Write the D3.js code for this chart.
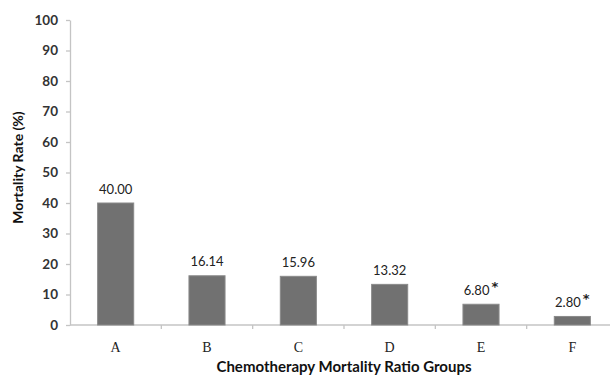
<!DOCTYPE html>
<html><head><meta charset="utf-8">
<script src="https://cdn.jsdelivr.net/npm/d3@7"></script>
<style>
html,body{margin:0;padding:0;background:#fff;}
svg{display:block;}
</style></head>
<body>
<svg id="chart" width="610" height="381"></svg>
<script>
const categories = ["A", "B", "C", "D", "E", "F"];
const values = [40.00, 16.14, 15.96, 13.32, 6.80, 2.80];
const valueLabels = ["40.00", "16.14", "15.96", "13.32", "6.80", "2.80"];
const significant = [false, false, false, false, true, true];
const yTicks = [0, 10, 20, 30, 40, 50, 60, 70, 80, 90, 100];

(function () {
const svg = d3.select("#chart");
const mLeft = 70, mRight = 618, mTop = 20, mBottom = 325;

const x = d3.scaleBand().domain(categories).range([mLeft, mRight]).padding(0);
const y = d3.scaleLinear().domain([0, 100]).range([mBottom, mTop]);
const axisColor = "#c4c4c4";
const barW = x.bandwidth() * 0.395;

// y axis
const yAxis = svg.append("g").attr("transform", `translate(${mLeft},0)`)
  .call(d3.axisLeft(y).tickValues(yTicks).tickSize(4).tickPadding(8).tickSizeOuter(0));
yAxis.select(".domain").attr("stroke", axisColor).attr("stroke-width", 1.3);
yAxis.selectAll(".tick line").attr("stroke", axisColor).attr("stroke-width", 1.3);
yAxis.selectAll(".tick text").attr("fill", "#333").style("font-family", "Lato, 'Open Sans', sans-serif")
  .style("font-size", "13.5px").style("font-weight", "700");

// x axis with ticks at band boundaries
const xg = svg.append("g").attr("transform", `translate(0,${mBottom})`);
xg.append("line").attr("x1", mLeft).attr("x2", 610).attr("y1", 0).attr("y2", 0)
  .attr("stroke", axisColor).attr("stroke-width", 1.3);
xg.selectAll("line.bt").data(categories.slice(1)).enter().append("line").attr("class", "bt")
  .attr("x1", d => x(d)).attr("x2", d => x(d)).attr("y1", 0).attr("y2", 4)
  .attr("stroke", axisColor).attr("stroke-width", 1.3);
xg.selectAll("text").data(categories).enter().append("text")
  .attr("x", d => x(d) + x.bandwidth() / 2).attr("y", 27)
  .attr("text-anchor", "middle").attr("fill", "#222")
  .style("font-family", "'Liberation Serif', 'DejaVu Serif', serif").style("font-size", "14px")
  .text(d => d);

// bars
svg.selectAll("rect.bar").data(categories).enter().append("rect").attr("class", "bar")
  .attr("x", (d, i) => x(d) + x.bandwidth() / 2 - barW / 2)
  .attr("y", (d, i) => y(values[i]))
  .attr("width", barW)
  .attr("height", (d, i) => y(0) - y(values[i]))
  .attr("fill", "#717171").attr("stroke", "#8a8a8a").attr("stroke-width", 1);

// value labels
const lbl = svg.selectAll("text.val").data(categories).enter().append("text").attr("class", "val")
  .attr("x", (d, i) => x(d) + x.bandwidth() / 2)
  .attr("y", (d, i) => y(values[i]) - 9.5)
  .attr("text-anchor", "middle").attr("fill", "#222")
  .style("font-family", "Lato, 'Open Sans', sans-serif").style("font-size", "13px");
lbl.append("tspan").text((d, i) => valueLabels[i]);
lbl.filter((d, i) => significant[i]).append("tspan").attr("dx", 2).attr("dy", -4)
  .style("font-family", "'DejaVu Sans', sans-serif")
  .style("font-weight", "700").style("font-size", "13px").text("*");

// axis titles
svg.append("text").attr("x", (mLeft + mRight) / 2).attr("y", 372).attr("text-anchor", "middle")
  .attr("fill", "#111").style("font-family", "Lato, 'Open Sans', sans-serif")
  .style("font-size", "15px").style("font-weight", "700")
  .text("Chemotherapy Mortality Ratio Groups");
svg.append("text").attr("transform", `translate(23,${(mTop + mBottom) / 2 - 5}) rotate(-90)`)
  .attr("text-anchor", "middle").attr("fill", "#111")
  .style("font-family", "Lato, 'Open Sans', sans-serif")
  .style("font-size", "14px").style("font-weight", "700")
  .text("Mortality Rate (%)");
})();
</script>
</body></html>
